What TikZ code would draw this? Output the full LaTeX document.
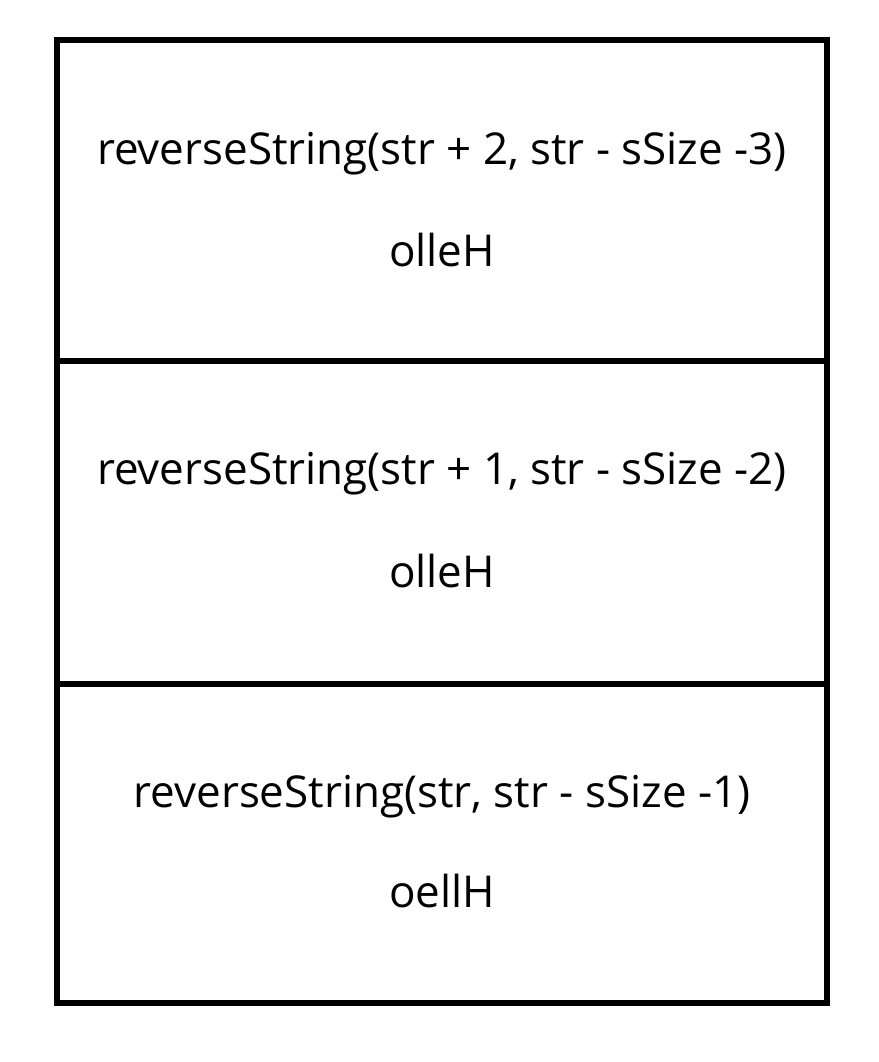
\documentclass[tikz,border=0pt]{standalone}
\usepackage{fontspec}
\setmainfont{Open Sans}
\usetikzlibrary{calc}
\tikzset{
  frame/.style={line width=3.4pt},
  call/.style={font=\fontsize{25}{30}\selectfont, inner sep=0pt}
}

\begin{document}
\begin{tikzpicture}
			%%%%% START %%%%%
			\useasboundingbox (0, 0) rectangle (17.58, 21.24);
			
			\draw[frame] (1.14, 1.18) rectangle (16.54, 20.44);
			\draw[frame] (1.14, 14.02) -- (16.54, 14.02);
			\draw[frame] (1.14, 7.56) -- (16.54, 7.56);
			
			\node[call] (callA) at (8.84, 18.16) {reverseString(str + 2, str - sSize -3)};
			\node[call] (valA) at (8.84, 16.24) {olleH};
			
			\node[call] (callB) at (8.84, 11.76) {reverseString(str + 1, str - sSize -2)};
			\node[call] (valB) at (8.84, 9.82) {olleH};
			
			\node[call] (callC) at (8.84, 5.30) {reverseString(str, str - sSize -1)};
			\node[call] (valC) at (8.84, 3.42) {oellH};
			
			%%%%% END %%%%%
		\end{tikzpicture}
\end{document}
